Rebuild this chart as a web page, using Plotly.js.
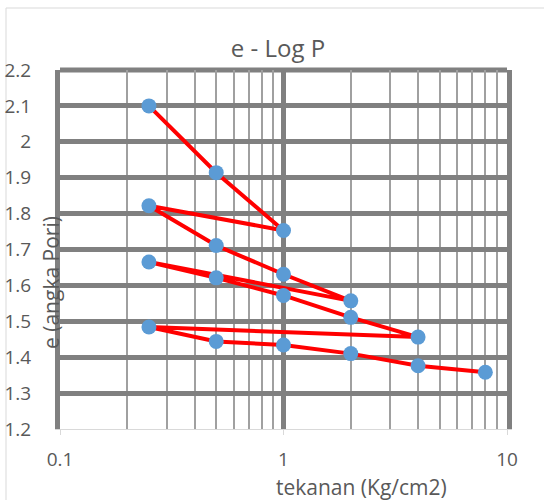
<!DOCTYPE html>
<html><head><meta charset="utf-8">
<script src="https://cdn.plot.ly/plotly-3.0.1.min.js"></script>
<style>html,body{margin:0;padding:0;background:#fff}</style>
</head><body><div id="chart" style="width:544px;height:500px"></div>
<script>
const pressure = [0.25,0.5,1,0.25,0.5,1,2,0.25,0.5,1,2,4,0.25,0.5,1,2,4,8];
const voidRatio = [2.100,1.914,1.753,1.822,1.711,1.631,1.557,1.665,1.621,1.572,1.511,1.456,1.484,1.444,1.434,1.410,1.376,1.358];
const xTickVals = [0.1,1,10];
const xTickText = ['0.1','1','10'];
const xMinorVals = [0.2,0.3,0.4,0.5,0.6,0.7,0.8,0.9,2,3,4,5,6,7,8,9];
const yTickVals = [1.2,1.3,1.4,1.5,1.6,1.7,1.8,1.9,2.0,2.1,2.2];
const yTickText = ['1.2','1.3','1.4','1.5','1.6','1.7','1.8','1.9','2','2.1','2.2'];
const chartTitle = 'e - Log P';
const xTitle = 'tekanan (Kg/cm2)';
const yTitle = 'e (angka Pori)';

const font = '"Open Sans", sans-serif';
const txt = '#595959';
const major = '#808080';

const trace = {
  x: pressure, y: voidRatio, type: 'scatter', mode: 'lines+markers',
  line: {color: '#ff0000', width: 4},
  marker: {color: '#5b9bd5', size: 15},
  cliponaxis: false, showlegend: false
};

const layout = {
  width: 544, height: 500,
  margin: {l: 60, r: 37, t: 70, b: 71},
  paper_bgcolor: '#ffffff', plot_bgcolor: '#ffffff',
  font: {family: font, color: txt, size: 19},
  title: {text: chartTitle, font: {family: font, size: 24, color: txt},
          x: 278/544, xref: 'container', xanchor: 'center',
          y: 1 - 49/500, yref: 'container', yanchor: 'middle'},
  xaxis: {
    type: 'log', range: [-1, 1], tickmode: 'array', tickvals: xTickVals, ticktext: xTickText,
    showgrid: true, gridcolor: major, gridwidth: 5,
    minor: {tickmode: 'array', tickvals: xMinorVals, showgrid: true, gridcolor: '#a0a0a0', gridwidth: 2, ticks: ''},
    showline: true, linecolor: '#d9d9d9', linewidth: 1,
    ticks: 'outside', ticklen: 5, tickcolor: '#d9d9d9', tickwidth: 1,
    ticklabelstandoff: 8,
    tickfont: {family: font, size: 19, color: txt}, zeroline: false
  },
  yaxis: {
    range: [1.2, 2.2], tickmode: 'array', tickvals: yTickVals, ticktext: yTickText,
    showgrid: true, gridcolor: major, gridwidth: 5,
    showline: true, mirror: true, linecolor: major, linewidth: 5,
    ticks: '', ticklabelstandoff: 20,
    tickfont: {family: font, size: 19, color: txt}, zeroline: false
  },
  annotations: [
    {text: xTitle, xref: 'paper', yref: 'paper', x: (361-60)/447, y: (429-487)/359,
     xanchor: 'center', yanchor: 'middle', showarrow: false, font: {family: font, size: 21, color: txt}},
    {text: yTitle, xref: 'paper', yref: 'paper', x: (51-60)/447, y: (429-283)/359, textangle: -90,
     xanchor: 'center', yanchor: 'middle', showarrow: false, font: {family: font, size: 21, color: txt}}
  ],
  shapes: [
    {type: 'rect', xref: 'paper', yref: 'paper', x0: (6-60)/447, x1: 1.3, y0: -0.3, y1: (429-8)/359,
     line: {color: '#d9d9d9', width: 1}, layer: 'below'},
    {type: 'line', xref: 'paper', yref: 'paper', x0: 0, x1: 1, y0: 1, y1: 1,
     line: {color: major, width: 5}, layer: 'below'}
  ]
};

Plotly.newPlot('chart', [trace], layout, {displayModeBar: false, staticPlot: true});
</script>
</body></html>
